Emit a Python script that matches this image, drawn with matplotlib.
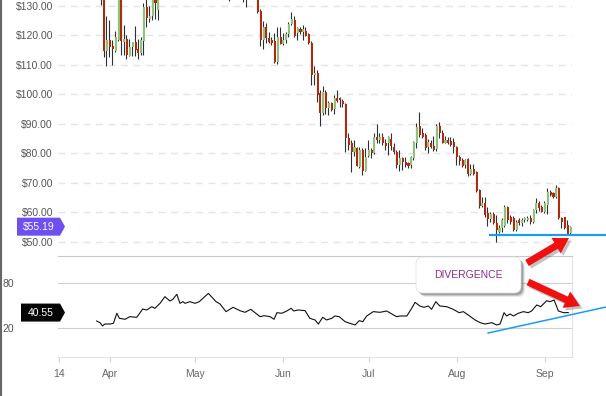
import datetime as dt
import numpy as np
import matplotlib
matplotlib.use("Agg")
import matplotlib.pyplot as plt
import matplotlib.dates as mdates
from matplotlib.patches import Polygon, FancyBboxPatch, FancyArrow
from matplotlib.transforms import IdentityTransform
from matplotlib.lines import Line2D

plt.rcParams['font.family'] = ['Liberation Sans', 'DejaVu Sans']

# ---------------- data ----------------
first_day = dt.datetime(2018, 3, 28)   # one candle per calendar day

opens = [140, 137, 133, 114.8, 118.5, 116.4, 114.8, 118.5, 133, 117.9,
         118.7, 113.2, 116.2, 117.9, 115.4, 114.2, 118.2, 129.6, 125.7, 126.6,
         134, 128.6,
         135, 139, 144, 141, 144, 142, 146, 143, 145, 147,
         146, 150, 153, 150, 146, 148, 143, 139, 142, 140,
         137, 140, 138, 136, 137, 134, 137, 136, 138, 135,
         136, 134, 137, 136,
         135, 128.3, 118.5, 122.8, 119.3, 118.5, 118.1, 110.9, 119.6, 117,
         118.5, 120.4, 123.8, 125.3, 120.7, 122.1, 121.3, 121.6, 120.4, 117.4,
         106.6, 107.2, 100.4, 93.7, 101, 95.3, 97, 95.1, 98.7, 98.9,
         97.8, 96.8, 85.1, 83.4, 80.6, 81.8, 75.5, 81.2, 74.2, 79.2,
         81.2, 80, 85.5, 84.6, 85.5, 83.7, 83.7, 84.9, 82.3, 80.6,
         76.1, 78.4, 77.2, 76.9, 76.1, 78.4, 83.7, 89.3, 86.8, 86.3,
         82.3, 83.7, 82.5, 81.4, 89.3, 86.8, 83.7, 84.6, 84.2, 84,
         82.3, 78.9, 77.8, 76.1, 78, 73, 74.7, 73.8, 67.6, 62.2,
         63.1, 59.7, 57.7, 59.4, 56.5, 53.5, 54.7, 55.4, 61.8, 58.6,
         58.1, 54.1, 57.5, 56.4, 57.5, 57.6, 58.3, 56.9, 60.8, 63.3,
         62, 60.3, 62.5, 67, 66.7, 65.4, 68.2, 58.1, 58.4, 55.8, 53]
highs = [142, 139, 134, 126.6, 125.3, 118.5, 121.5, 134, 134, 123.6,
         120.3, 118.9, 117.9, 123.2, 118.7, 119.5, 131, 132.5, 130, 134,
         136, 137,
         140, 146, 147, 145, 146, 147, 148, 146, 149, 150,
         151, 155, 156, 152, 149, 150, 145, 143, 144, 143,
         141, 142, 141, 139, 139, 138, 140, 139, 140, 137,
         138, 138, 139, 138,
         137, 129, 124.9, 124.1, 121.1, 119.5, 120.8, 123, 123, 120.8,
         121.1, 124.5, 127.9, 126.5, 122.8, 123, 123.6, 122.8, 121, 118,
         109.5, 108.3, 101.5, 102.9, 101.5, 97.8, 97.5, 99.8, 101.5, 99.2,
         98.5, 97, 86.8, 84.6, 84.6, 82.1, 82.1, 81.9, 81.9, 84.6,
         81.8, 87, 89.9, 87, 87, 85, 85.8, 86.8, 83.4, 81.2,
         81.2, 78.9, 78.9, 77.2, 79.2, 84.3, 90.2, 94.2, 88.5, 86.8,
         84.8, 84.6, 85.9, 89.9, 90.8, 88, 86, 85.6, 85.6, 85.1,
         82.5, 79.5, 78.4, 78, 78.4, 76.5, 76.5, 74, 67.8, 65.4,
         65.4, 62, 60, 60.2, 59.2, 55.8, 58, 62.5, 62.2, 59,
         58.8, 57.5, 58.1, 58.3, 58.6, 58.7, 59, 61.2, 64.8, 64,
         62.7, 63.8, 68.3, 67.5, 67.1, 69.3, 68.8, 58.5, 58.6, 57.3, 55.5]
lows = [134, 130.4, 112.8, 109.8, 112.8, 110, 114.5, 118, 113.4, 113.4,
        112, 113, 113, 113.2, 112, 113.4, 113.4, 123, 124.7, 125.3,
        125.5, 125.3,
        134, 138, 140, 139, 141, 141, 142, 140, 143, 145,
        144, 148, 149, 145, 143, 142, 138, 137, 138, 136,
        135, 136, 135, 133, 131.7, 133, 135, 134, 134, 131.5,
        129.6, 133, 134, 133,
        127.7, 116.5, 115.3, 117.4, 117.4, 116.8, 110.6, 110.3, 117, 116.8,
        117.5, 119.5, 123.6, 119.5, 118.5, 120.5, 118.5, 119.8, 117.2, 103.2,
        103.2, 97.6, 89.4, 93, 93.5, 93.2, 94.5, 93.4, 97.6, 95.9,
        95.9, 80.6, 81.2, 73.8, 79, 75.6, 75, 72.7, 74, 78.9,
        78.4, 79.8, 83.4, 83.6, 83, 81.2, 79.5, 81.2, 79.8, 75,
        74, 74.4, 75.5, 75, 75, 77.8, 81.8, 85.5, 85.2, 81.2,
        80, 82, 81, 80.8, 85.1, 83.5, 83.4, 83.2, 82.5, 80,
        76.1, 76.1, 75.5, 75, 72.4, 72.7, 72.7, 67, 61.4, 62,
        58.5, 55.4, 56.8, 56.2, 50.1, 53, 53.5, 55, 56.6, 56.2,
        53.8, 53.8, 55.8, 55.4, 56.7, 57, 56, 56.3, 59.9, 60.5,
        60, 59.8, 59.5, 65.5, 65, 65, 57.8, 54.9, 54.4, 52.3, 52.8]
closes = [137, 133, 114.8, 118.5, 116.2, 115.3, 119.4, 133, 118.2, 118.7,
          113.4, 116.2, 117.9, 115.1, 114.2, 118.5, 129.6, 125.8, 126.6, 133,
          130.9, 135,
          139, 144, 141, 144, 142, 146, 143, 145, 147, 146,
          150, 153, 150, 146, 148, 143, 139, 142, 140, 137,
          140, 138, 136, 137, 134, 137, 136, 138, 135, 136,
          134, 137, 136, 135,
          128.1, 118.5, 122.8, 119.3, 117.9, 117.6, 110.9, 119.6, 117, 118.5,
          120.4, 123.8, 125.5, 119.9, 122.4, 121.3, 122.1, 119.9, 117.4, 106.6,
          107.3, 99.8, 93.7, 101, 95.3, 97, 94.9, 98.7, 97.8, 98.3,
          96.7, 85.1, 82.9, 80.6, 82.1, 75.8, 81.2, 74.2, 78.9, 81.2,
          80, 85.5, 84.6, 85.5, 83.4, 82.5, 85.5, 82.5, 80.6, 76.1,
          78.4, 77.2, 76.1, 75.9, 78.9, 84, 89.1, 86.3, 85.5, 81.8,
          84, 82.3, 81.2, 89.3, 86.8, 83.7, 84.6, 83.4, 82.9, 82.3,
          78.9, 77.5, 75.9, 77.8, 73, 74.7, 73.2, 67.2, 62.2, 63.1,
          59.2, 57.7, 59.4, 56.5, 54.1, 54.6, 57.5, 62, 57.5, 56.9,
          54.1, 56.9, 56.4, 57.6, 58.3, 58.3, 56.9, 60.8, 63.3, 61.5,
          60.3, 63.1, 67, 65.9, 65.4, 68.2, 58.1, 56.9, 54.6, 52.4, 55.19]

# RSI: days after 1 April, values
rsi_day = [-4.7, -3.5, -2.6, -1.8, 0, 1.2, 2.4, 3.3, 5.3, 7.0, 9.4, 11.5, 12.9,
           14.7, 15.8, 17.6, 19.3, 21.1, 22.1, 23.5, 24.6, 25.6, 26.4, 28.1,
           29.9, 31.4, 34.6, 37.3, 38.7, 40.8, 43.3, 45.7, 47.5, 49.5, 51.0,
           52.8, 54.2, 56.3, 57.7, 58.7, 60.4, 62.2, 63.7, 64.6, 66.2, 68.6,
           70.3, 72.1, 73.3, 74.8, 76.2, 78.0, 79.1, 80.6, 82.7, 84.4, 86.2,
           87.7, 88.9, 90.3, 92.6, 95.0, 97.3, 98.7, 100.8, 102.0, 104.4,
           106.1, 107.3, 109.0, 110.4, 112.0, 113.1, 114.6, 116.0, 118.4,
           120.7, 122.8, 124.3, 126.0, 128.4, 130.2, 131.9, 134.3, 136.0,
           137.2, 138.6, 139.5, 140.7, 141.9, 143.6, 145.4, 147.1, 148.3,
           150.1, 151.5, 153.6, 154.8, 156.2, 157.7, 159.5, 161.2]
rsi_val = [29.3, 27, 22.7, 25.3, 25.3, 26.2, 39.6, 32.9, 31.6, 35.1, 34.2, 45.3,
           44, 48.4, 46.2, 52.9, 61.7, 56, 58.2, 64.9, 52.9, 55.1, 52.9, 55.1,
           52.9, 55.1, 66.2, 55.1, 52, 41.8, 47.6, 43.1, 40.9, 44.9, 40.4, 35.1,
           36.4, 35.1, 31.6, 40.4, 39.6, 42.7, 46.2, 42.7, 44, 43.1, 32.9, 30.7,
           25.3, 34.2, 30.7, 32.9, 36, 35.1, 28.4, 26.2, 24, 29.8, 28.4, 36,
           41.8, 40.9, 42.7, 39.6, 35.1, 36, 36, 46.2, 54.2, 49.3, 47.6, 49.3,
           44.9, 55.1, 49.3, 48.4, 44.9, 40.4, 41.8, 37.3, 30.7, 27.1, 25.3,
           27.1, 24, 25.3, 40.4, 36, 38.7, 36, 39.6, 41.8, 40.4, 42.7, 50.7,
           48.4, 56.4, 55.1, 57.3, 42.7, 40.4, 40.55]

price_ticks = [50, 60, 70, 80, 90, 100, 110, 120, 130]
rsi_ticks = [20, 80]
x_tick_dates = ['2018-03-14', '2018-04-01', '2018-05-01', '2018-06-01',
                '2018-07-01', '2018-08-01', '2018-09-01']
x_tick_labels = ['14', 'Apr', 'May', 'Jun', 'Jul', 'Aug', 'Sep']

support_days = [133.7, 174.5]      # days after 1 April
support_level = [52.4, 52.4]
rsi_trend_days = [133.0, 174.5]
rsi_trend_vals = [13.3, 48.0]

last_price = closes[-1]
last_rsi = rsi_val[-1]

# ---------------- figure ----------------
W, H = 606, 396
fig = plt.figure(figsize=(W / 100, H / 100), dpi=100)
ax = fig.add_axes([58 / W, 150 / H, 514 / W, 246 / H])
ax2 = fig.add_axes([58 / W, 39 / H, 514 / W, 101 / H])

apr1 = mdates.date2num(dt.datetime(2018, 4, 1))
xs = mdates.date2num(first_day) + np.arange(len(closes))
o, h, l, c = (np.array(v, float) for v in (opens, highs, lows, closes))

RED, GREEN, WICK = '#b3290c', '#8cc47a', '#2b3135'
BLUE = '#1a9cf0'

for a in (ax, ax2):
    a.set_xlim(apr1 - 18.29, apr1 + 162.5)

# candles
ax.vlines(xs - 0.25, l, h, color=WICK, lw=0.8, zorder=2)
body_lo = np.minimum(o, c)
body_h = np.maximum(np.abs(c - o), 0.35)
ax.bar(xs, body_h, bottom=body_lo, width=0.72,
       color=np.where(c >= o, GREEN, RED), lw=0, zorder=3)

ax.set_ylim(48.64, 132.03)
ax.set_yticks(price_ticks)
ax.set_yticklabels([f'${v:.2f}' for v in price_ticks])
ax.grid(axis='y', color='#e3e3ea', lw=1, linestyle=(0, (5, 4)))
ax.set_axisbelow(True)
ax.tick_params(axis='y', length=0, pad=3.6, labelsize=7.5, labelcolor='#555555')
ax.tick_params(axis='x', bottom=False, labelbottom=False)
for s in ax.spines.values():
    s.set_visible(False)

ax.plot(apr1 + np.array(support_days), support_level, color=BLUE, lw=1.6,
        clip_on=False, zorder=4)

# RSI panel
ax2.plot(apr1 + np.array(rsi_day), rsi_val, color='#111111', lw=0.8, zorder=3)
ax2.plot(apr1 + np.array(rsi_trend_days), rsi_trend_vals, color=BLUE, lw=1.1,
         clip_on=False, zorder=4)
ax2.set_ylim(-18.7, 116)
ax2.set_yticks(rsi_ticks)
ax2.grid(axis='y', color='#cfcfcf', lw=0.8)
ax2.set_axisbelow(True)
ax2.tick_params(axis='y', length=0, pad=40.3, labelsize=7.5, labelcolor='#555555')
for lab in ax2.get_yticklabels():
    lab.set_horizontalalignment('left')
ax2.set_xticks([mdates.date2num(dt.datetime.fromisoformat(d)) for d in x_tick_dates])
ax2.set_xticklabels(x_tick_labels)
ax2.tick_params(axis='x', length=3.6, width=0.8, color='#ccd6e0', pad=5,
                labelsize=7.5, labelcolor='#666666')
ax2.spines['left'].set_visible(False)
ax2.spines['top'].set_color('#c8c8c8')
ax2.spines['right'].set_color('#dde3ea')
ax2.spines['bottom'].set_color('#dde3ea')
for s in ax2.spines.values():
    s.set_linewidth(0.8)

# ---------------- overlays (pixel coordinates) ----------------
px = IdentityTransform()

fig.add_artist(Line2D([1, 1], [0, H], transform=px, color='#666666', lw=1.5))

def badge(yc, text, color, x0, x1):
    pts = [(x0, yc - 9), (x1, yc - 9), (x1 + 5, yc), (x1, yc + 9), (x0, yc + 9)]
    fig.add_artist(Polygon(pts, closed=True, transform=px, fc=color, ec='none'))
    fig.text((x0 + x1) / 2 / W, yc / H, text, color='white', fontsize=7.5,
             ha='center', va='center')

fig.canvas.draw()
yp = ax.transData.transform((xs[-1], last_price))[1]
yr = ax2.transData.transform((xs[-1], last_rsi))[1]
badge(yp, f'${last_price:.2f}', '#6d4ff2', 17, 60)
badge(yr, f'{last_rsi:.2f}', '#050505', 21, 60)

# callout box
bx, by, bw, bh = 416, H - 293, 105, 36
for k, al in ((3, 0.12), (2, 0.2), (1, 0.3)):
    fig.add_artist(FancyBboxPatch((bx + 1 + k, by - 1 - k), bw, bh,
                                  boxstyle='round,pad=0,rounding_size=7',
                                  transform=px, fc='#444444', ec='none', alpha=al))
fig.add_artist(FancyBboxPatch((bx, by), bw, bh, boxstyle='round,pad=0,rounding_size=7',
                              transform=px, fc='white', ec='#dddddd', lw=0.5))
fig.text((bx + bw / 2) / W, (by + bh / 2) / H, 'DIVERGENCE', color='#8e2a8c',
         fontsize=7.5, ha='center', va='center')

# red arrows
for (x0, y0, x1, y1) in ((527, H - 263, 569, H - 238), (528, H - 282, 580, H - 306)):
    for off, col, al in ((2.5, '#555555', 0.35), (0, '#f01010', 1.0)):
        fig.add_artist(FancyArrow(x0 + off, y0 - off, x1 - x0, y1 - y0, width=7,
                                  head_width=18, head_length=15,
                                  length_includes_head=True, transform=px,
                                  fc=col, ec='none', alpha=al))

fig.savefig('out.png', dpi=100)
